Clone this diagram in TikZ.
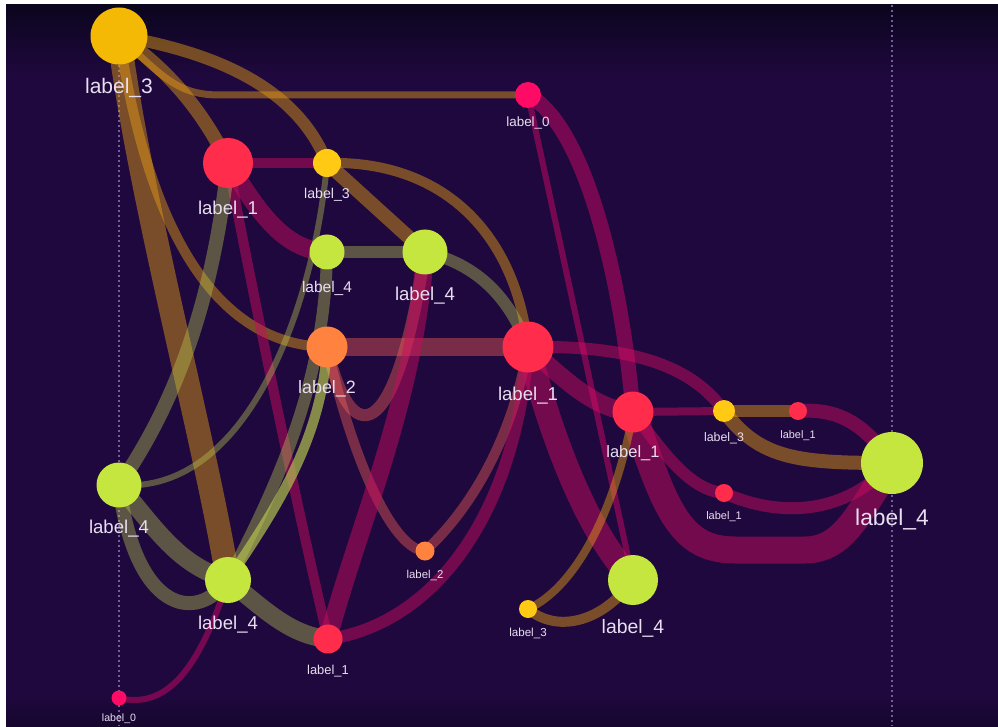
\documentclass[tikz,border=0pt]{standalone}
\usepackage{fontspec}
\setmainfont{Liberation Sans}
\pgfdeclarelayer{back}
\pgfdeclarelayer{links}
\pgfsetlayers{back,links,main}
\definecolor{bgc}{RGB}{31,8,61}
\definecolor{topc}{RGB}{11,5,30}
\definecolor{botc}{RGB}{22,6,46}
\definecolor{dotc}{RGB}{112,96,150}
\definecolor{goldN}{RGB}{243,185,5}
\definecolor{yelN}{RGB}{255,201,20}
\definecolor{redN}{RGB}{255,45,75}
\definecolor{limeN}{RGB}{197,230,63}
\definecolor{orgN}{RGB}{255,130,62}
\definecolor{pinkN}{RGB}{255,11,102}
\definecolor{labc}{RGB}{232,222,240}
\definecolor{goldL}{RGB}{232,160,20}
\definecolor{redL}{RGB}{200,12,95}
\definecolor{limeL}{RGB}{184,200,80}
\definecolor{orgL}{RGB}{255,100,90}
\definecolor{pinkL}{RGB}{224,10,106}
\tikzset{
  nd/.style={circle,inner sep=0pt,outer sep=0pt,draw=none,minimum size=#1},
  lab/.style={anchor=base,text=labc,inner sep=0pt,font=\fontsize{#1}{#1}\selectfont},
  gl/.style={draw=goldL,draw opacity=.45,line width=#1},
  rl/.style={draw=redL,draw opacity=.5,line width=#1},
  ll/.style={draw=limeL,draw opacity=.4,line width=#1},
  lb/.style={draw=limeL,draw opacity=.68,line width=#1},
  ol/.style={draw=orgL,draw opacity=.4,line width=#1},
  pl/.style={draw=pinkL,draw opacity=.45,line width=#1},
  dotline/.style={draw=dotc,line width=1.5pt,dash pattern=on 2pt off 3pt}
}
\begin{document}
\begin{tikzpicture}[x=1pt,y=-1pt]
\useasboundingbox (0,0) rectangle (998,727);
\begin{pgfonlayer}{back}
\fill[white] (0,0) rectangle (998,727);
\fill[bgc] (6,5) rectangle (998,726.5);
\shade[top color=topc,bottom color=bgc] (6,5) rectangle (998,75);
\shade[top color=bgc,bottom color=botc] (6,695) rectangle (998,726.5);
\coordinate (d1a) at (119,65);
\coordinate (d1b) at (119,726);
\coordinate (d2a) at (892,5);
\coordinate (d2b) at (892,726);
\draw[dotline] (d1a) -- (d1b);
\draw[dotline] (d2a) -- (d2b);
\end{pgfonlayer}

% nodes
\node[nd=57pt,fill=goldN] (A) at (119,36) {};
\node[nd=26pt,fill=pinkN] (B) at (528,95) {};
\node[nd=50pt,fill=redN] (C) at (228,163) {};
\node[nd=28pt,fill=yelN] (D) at (327,163) {};
\node[nd=35pt,fill=limeN] (E) at (327,252) {};
\node[nd=45pt,fill=limeN] (F) at (425,252) {};
\node[nd=41pt,fill=orgN] (G) at (327,347) {};
\node[nd=51pt,fill=redN] (H) at (528,347) {};
\node[nd=41pt,fill=redN] (I) at (633,412) {};
\node[nd=22pt,fill=yelN] (J) at (724,411) {};
\node[nd=18pt,fill=redN] (K) at (798,411) {};
\node[nd=18pt,fill=redN] (L) at (724,493) {};
\node[nd=62pt,fill=limeN] (M) at (892,463) {};
\node[nd=45pt,fill=limeN] (N) at (119,485) {};
\node[nd=46pt,fill=limeN] (O) at (228,580) {};
\node[nd=19pt,fill=orgN] (P) at (425,551) {};
\node[nd=29pt,fill=redN] (Q) at (328,639) {};
\node[nd=50pt,fill=limeN] (R) at (633,580) {};
\node[nd=18pt,fill=yelN] (S) at (528,609) {};
\node[nd=15pt,fill=pinkN] (T) at (119,698) {};

% labels
\node[lab=21] (lA) at (119,94) {label\_3};
\node[lab=13.4] (lB) at (528,127) {label\_0};
\node[lab=18.6] (lC) at (228,215) {label\_1};
\node[lab=14.2] (lD) at (327,199) {label\_3};
\node[lab=15.5] (lE) at (327,292) {label\_4};
\node[lab=18.6] (lF) at (425,301) {label\_4};
\node[lab=17.9] (lG) at (327,393) {label\_2};
\node[lab=18.6] (lH) at (528,400) {label\_1};
\node[lab=16.5] (lI) at (633,457) {label\_1};
\node[lab=12.4] (lJ) at (724,441) {label\_3};
\node[lab=10.9] (lK) at (798,438) {label\_1};
\node[lab=11] (lL) at (724,519) {label\_1};
\node[lab=22.8] (lM) at (892,525) {label\_4};
\node[lab=18.6] (lN) at (119,533) {label\_4};
\node[lab=18.6] (lO) at (228,629) {label\_4};
\node[lab=11.4] (lP) at (425,578) {label\_2};
\node[lab=12.9] (lQ) at (328,674) {label\_1};
\node[lab=19.4] (lR) at (633,633) {label\_4};
\node[lab=11.6] (lS) at (528,636) {label\_3};
\node[lab=10.6] (lT) at (119,721) {label\_0};

\begin{pgfonlayer}{links}
% from A
\draw[gl=24] (A.center) .. controls (140,200) and (205,440) .. (O.center);
\draw[gl=10] (A.center) .. controls (150,240) and (220,345) .. (G.center);
\draw[gl=14] (A.center) .. controls (170,70) and (205,115) .. (C.center);
\draw[gl=12] (A.center) .. controls (230,55) and (300,95) .. (D.center);
\draw[gl=7] (A.center) .. controls (165,80) and (180,95) .. (220,95) -- (B.center);
% from C
\draw[rl=10] (C.center) -- (D.center);
\draw[rl=18] (C.center) .. controls (260,215) and (285,250) .. (E.center);
\draw[rl=10] (C.center) .. controls (260,330) and (300,520) .. (Q.center);
% from N
\draw[ll=14] (N.center) .. controls (185,390) and (215,280) .. (C.center);
\draw[ll=6] (N.center) .. controls (250,495) and (315,300) .. (D.center);
\draw[ll=18] (N.center) .. controls (160,535) and (180,565) .. (O.center);
\draw[ll=14] (N.center) .. controls (135,610) and (195,625) .. (O.center);
% from D, E, F
\draw[gl=14] (D.center) -- (F.center);
\draw[gl=10] (D.center) .. controls (440,160) and (515,230) .. (H.center);
\draw[ll=12] (E.center) -- (F.center);
\draw[ll=12] (F.center) .. controls (480,265) and (510,300) .. (H.center);
% from G
\draw[ol=18] (G.center) -- (H.center);
\draw[ol=12] (G.center) .. controls (350,450) and (395,450) .. (F.center);
\draw[ol=10] (G.center) .. controls (355,470) and (395,550) .. (P.center);
\draw[ol=10] (P.center) .. controls (470,510) and (512,440) .. (H.center);
% from O
\draw[ll=12] (O.center) .. controls (280,480) and (325,380) .. (E.center);
\draw[lb=10] (O.center) .. controls (275,510) and (322,440) .. (G.center);
\draw[ll=18] (O.center) .. controls (265,610) and (290,635) .. (Q.center);
\draw[pl=6] (T.center) .. controls (175,712) and (205,650) .. (O.center);
% from Q
\draw[rl=18] (Q.center) .. controls (360,520) and (415,400) .. (F.center);
% from H
\draw[rl=12] (H.center) .. controls (515,520) and (430,625) .. (Q.center);
\draw[rl=24] (H.center) .. controls (555,450) and (590,535) .. (R.center);
\draw[rl=18] (H.center) .. controls (565,380) and (595,410) .. (I.center);
\draw[rl=12] (H.center) .. controls (640,345) and (695,370) .. (J.center);
% from B
\draw[pl=15] (B.center) .. controls (585,125) and (622,280) .. (I.center);
\draw[pl=6] (B.center) -- (R.center);
% from I
\draw[rl=8] (I.center) -- (J.center);
\draw[rl=12] (I.center) .. controls (665,455) and (690,490) .. (L.center);
\draw[rl=27] (I.center) .. controls (665,510) and (680,550) .. (735,550) -- (805,550) .. controls (845,550) and (860,510) .. (M.center);
% right cluster
\draw[gl=12] (J.center) -- (K.center);
\draw[gl=14] (J.center) .. controls (760,460) and (800,463) .. (M.center);
\draw[rl=14] (K.center) .. controls (840,408) and (865,425) .. (M.center);
\draw[rl=12] (L.center) .. controls (780,518) and (845,515) .. (M.center);
% from S
\draw[gl=8] (S.center) .. controls (580,585) and (618,500) .. (I.center);
\draw[gl=10] (S.center) .. controls (555,632) and (600,625) .. (R.center);
\end{pgfonlayer}
\end{tikzpicture}
\end{document}
